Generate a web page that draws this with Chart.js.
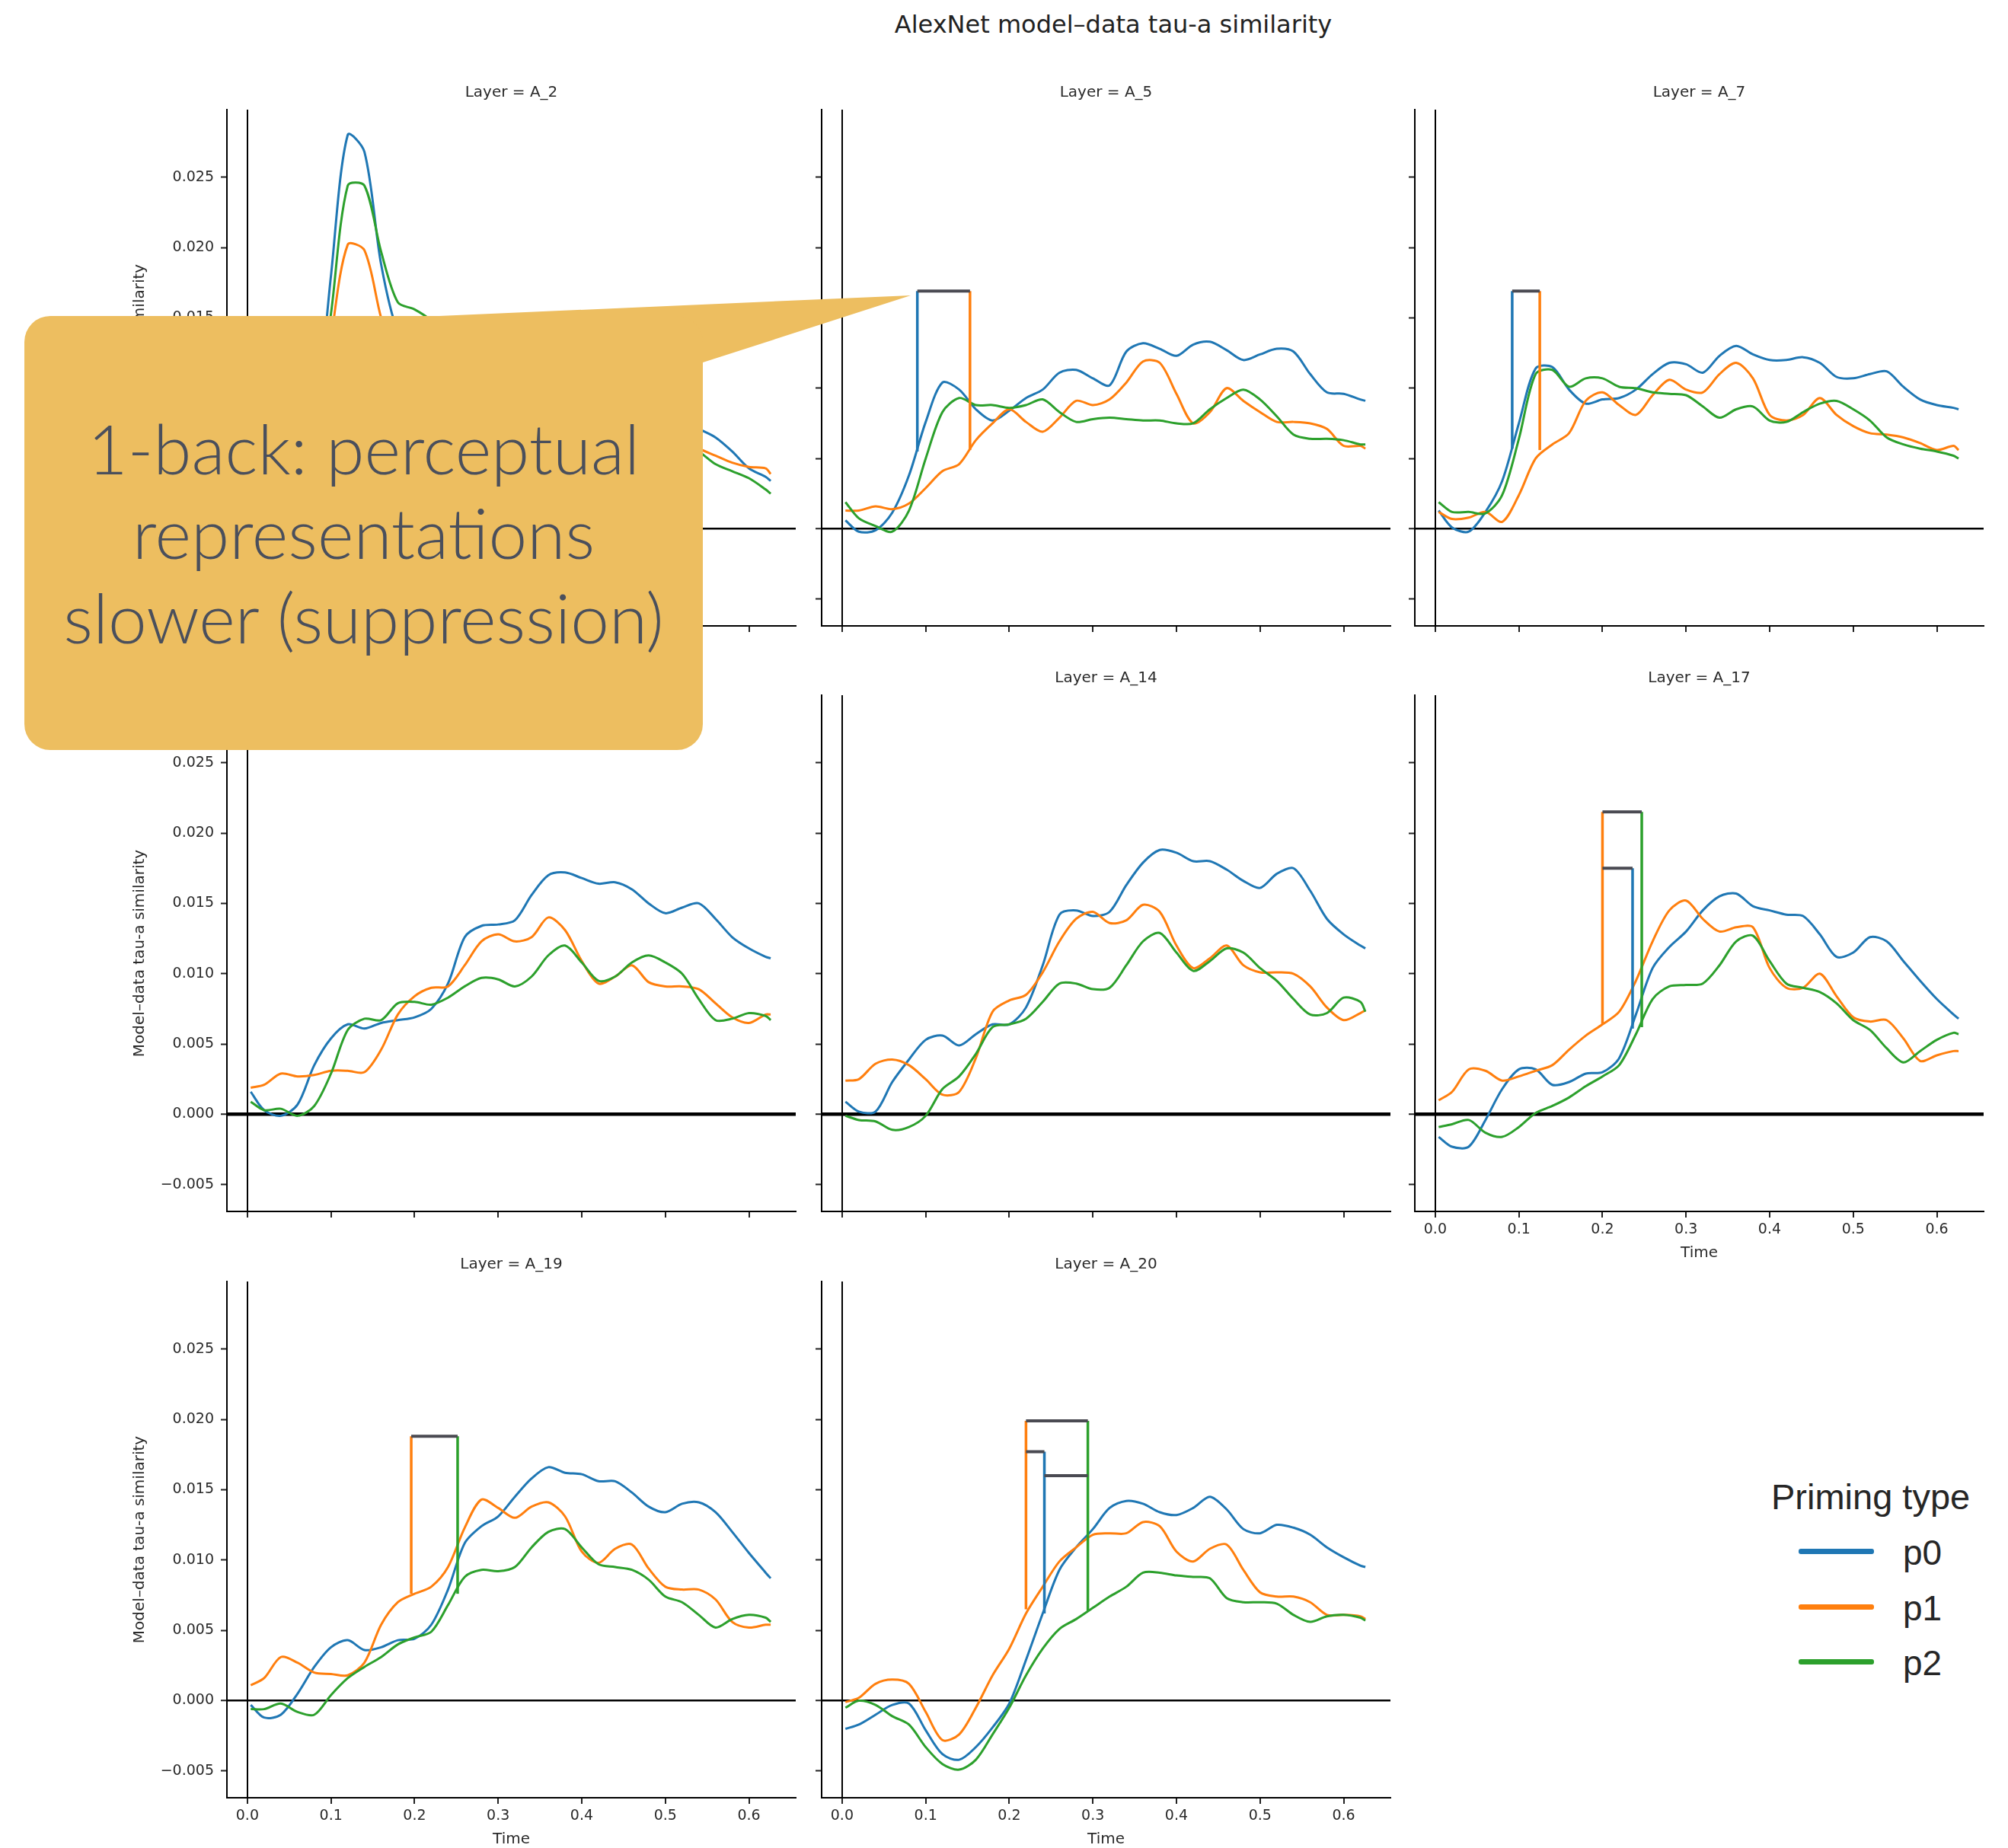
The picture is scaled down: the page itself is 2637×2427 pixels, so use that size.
<!DOCTYPE html>
<html>
<head>
<meta charset="utf-8">
<script src="https://cdn.jsdelivr.net/npm/chart.js@4.4.1/dist/chart.umd.min.js"></script>
<style>
  html, body { margin: 0; padding: 0; background: #fff; }
  body { width: 2637px; height: 2427px; position: relative; overflow: hidden; }
  canvas { position: absolute; }
  #title { position: absolute; left: 462px; width: 2000px; top: 12px; text-align: center;
           font: 32px/40px "DejaVu Sans", sans-serif; color: #222; }
  .legend { position: absolute; font-family: "Liberation Sans", Arial, sans-serif; color: #262626; white-space: nowrap; }
  .swatch { position: absolute; width: 99px; height: 7px; border-radius: 3px; }
  #callout { position: absolute; left: 32px; top: 415px; width: 891px; height: 570px;
             background: #edbe60; border-radius: 34px; z-index: 10; }
  #pointer { position: absolute; left: 0; top: 0; z-index: 10; }
  #calloutText { position: absolute; left: 32px; top: 532px; width: 891px; text-align: center; z-index: 11;
                 font-family: Lato, "Open Sans", sans-serif; font-weight: 300; font-size: 91px; line-height: 111px; color: #4a4f5c; }
</style>
</head>
<body>
<div id="title">AlexNet model–data tau-a similarity</div>

<div class="legend" style="left:2326px; top:1938px; font-size:47px; line-height:56px;">Priming type</div>
<div class="swatch" style="left:2362px; top:2034px; background:#1f77b4;"></div>
<div class="legend" style="left:2499px; top:2011px; font-size:46px; line-height:56px;">p0</div>
<div class="swatch" style="left:2362px; top:2107px; background:#ff7f0e;"></div>
<div class="legend" style="left:2499px; top:2084px; font-size:46px; line-height:56px;">p1</div>
<div class="swatch" style="left:2362px; top:2179px; background:#2ca02c;"></div>
<div class="legend" style="left:2499px; top:2156px; font-size:46px; line-height:56px;">p2</div>

<svg id="pointer" width="1300" height="600"><polygon points="554,416 1196,388 923,476 923,520 554,520" fill="#edbe60"/></svg>
<div id="callout"></div>
<div id="calloutText">1-back: perceptual<br>representations<br>slower (suppression)</div>

<script>
// sample times (s) shared by every series
const times = [0.004, 0.02, 0.04, 0.06, 0.08, 0.10, 0.12, 0.14, 0.16, 0.18, 0.20, 0.22, 0.24, 0.26, 0.28, 0.30,
  0.32, 0.34, 0.36, 0.38, 0.40, 0.42, 0.44, 0.46, 0.48, 0.50, 0.52, 0.54, 0.56, 0.58, 0.60, 0.62, 0.626];

const xTicks = [0, 0.1, 0.2, 0.3, 0.4, 0.5, 0.6];
const yTicks = [-0.005, 0, 0.005, 0.010, 0.015, 0.020, 0.025];
const seriesNames = ['p0', 'p1', 'p2'];

const a2_p0 = [0.0008, 0.0002, 0.0005, 0.0020, 0.0065, 0.0180, 0.0280, 0.0268, 0.0188, 0.0140, 0.0128, 0.0124, 0.0120, 0.0117, 0.0115, 0.0112, 0.0111, 0.0109, 0.0107, 0.0105, 0.0103, 0.0100, 0.0097, 0.0094, 0.0090, 0.0083, 0.0077, 0.0071, 0.0065, 0.0055, 0.0043, 0.0037, 0.0034];
const a2_p1 = [0.0015, 0.0012, 0.0014, 0.0020, 0.0050, 0.0135, 0.0202, 0.0198, 0.0150, 0.0115, 0.0100, 0.0095, 0.0092, 0.0090, 0.0088, 0.0086, 0.0085, 0.0084, 0.0083, 0.0081, 0.0079, 0.0076, 0.0073, 0.0071, 0.0068, 0.0064, 0.0061, 0.0057, 0.0052, 0.0047, 0.0044, 0.0043, 0.0039];
const a2_p2 = [0.0012, 0.0008, 0.0010, 0.0025, 0.0070, 0.0153, 0.0244, 0.0244, 0.0197, 0.0161, 0.0156, 0.0148, 0.0135, 0.0122, 0.0112, 0.0105, 0.0100, 0.0096, 0.0092, 0.0089, 0.0086, 0.0082, 0.0079, 0.0075, 0.0071, 0.0066, 0.0061, 0.0055, 0.0046, 0.0041, 0.0036, 0.0028, 0.0025];

const a5_p0 = [0.0006, -0.0002, -0.0001, 0.00115, 0.0038, 0.0076, 0.0104, 0.0099, 0.0085, 0.0077, 0.0084, 0.0093, 0.0099, 0.0111, 0.0113, 0.0107, 0.0102, 0.0126, 0.0132, 0.0128, 0.0123, 0.0131, 0.0133, 0.0127, 0.0120, 0.0124, 0.0128, 0.0126, 0.0110, 0.0097, 0.0096, 0.0092, 0.0091];
const a5_p1 = [0.0013, 0.0013, 0.0016, 0.0014, 0.0018, 0.0029, 0.0041, 0.0046, 0.0063, 0.0075, 0.0085, 0.0076, 0.0069, 0.0079, 0.0091, 0.0088, 0.0092, 0.0104, 0.0119, 0.0118, 0.0096, 0.0075, 0.0083, 0.0100, 0.0091, 0.0083, 0.0076, 0.0076, 0.0075, 0.0071, 0.0059, 0.0059, 0.0057];
const a5_p2 = [0.0019, 0.00075, 0.0002, -0.0002, 0.0013, 0.0050, 0.0083, 0.0093, 0.0088, 0.0088, 0.0086, 0.0088, 0.0092, 0.0083, 0.0076, 0.0078, 0.0079, 0.0078, 0.0077, 0.0077, 0.0075, 0.0075, 0.0085, 0.0093, 0.0099, 0.0092, 0.0080, 0.0067, 0.0064, 0.0064, 0.0063, 0.0060, 0.0060];

const a7_p0 = [0.0013, 0.0001, -0.0002, 0.0012, 0.0034, 0.0075, 0.0114, 0.0115, 0.0099, 0.0089, 0.0092, 0.0093, 0.0099, 0.0110, 0.0118, 0.0117, 0.0111, 0.0123, 0.0130, 0.0124, 0.0120, 0.0120, 0.0122, 0.0118, 0.0108, 0.0107, 0.0110, 0.0112, 0.0101, 0.0092, 0.0088, 0.0086, 0.0085];
const a7_p1 = [0.0012, 0.0007, 0.0008, 0.0012, 0.0005, 0.0024, 0.0050, 0.0060, 0.0068, 0.0091, 0.0097, 0.0088, 0.0081, 0.0095, 0.0106, 0.0099, 0.0097, 0.0110, 0.0118, 0.0107, 0.0081, 0.0077, 0.0081, 0.0093, 0.0081, 0.0073, 0.0068, 0.0067, 0.0065, 0.0061, 0.0056, 0.0059, 0.0056];
const a7_p2 = [0.0019, 0.0012, 0.0012, 0.0011, 0.0024, 0.0064, 0.0110, 0.0113, 0.0101, 0.0107, 0.0107, 0.0101, 0.0100, 0.0097, 0.0096, 0.0095, 0.0087, 0.0079, 0.0085, 0.0087, 0.0077, 0.0076, 0.0083, 0.0089, 0.0091, 0.0085, 0.0077, 0.0065, 0.0060, 0.0057, 0.0055, 0.0052, 0.0050];

const a10_p0 = [0.0016, 0.0003, -0.0001, 0.0007, 0.0035, 0.0054, 0.0064, 0.0061, 0.0065, 0.0067, 0.0069, 0.0075, 0.0093, 0.0126, 0.0134, 0.0135, 0.0138, 0.0156, 0.0170, 0.0172, 0.0168, 0.0164, 0.0165, 0.0160, 0.0150, 0.0143, 0.0147, 0.0150, 0.0139, 0.0126, 0.0118, 0.0112, 0.0111];
const a10_p1 = [0.0019, 0.0021, 0.0029, 0.0027, 0.0028, 0.0031, 0.0031, 0.0030, 0.0046, 0.0071, 0.0084, 0.0090, 0.0091, 0.0106, 0.0123, 0.0128, 0.0123, 0.0126, 0.0140, 0.0131, 0.0109, 0.0093, 0.0098, 0.0106, 0.0094, 0.0091, 0.0091, 0.0089, 0.0079, 0.0069, 0.0065, 0.0071, 0.0071];
const a10_p2 = [0.0009, 0.0003, 0.0004, -0.0001, 0.0006, 0.0029, 0.0060, 0.0068, 0.0067, 0.0079, 0.0080, 0.0078, 0.0083, 0.0091, 0.0097, 0.0096, 0.0091, 0.0098, 0.0113, 0.0120, 0.0108, 0.0095, 0.0098, 0.0108, 0.0113, 0.0108, 0.0100, 0.0082, 0.0067, 0.0068, 0.0072, 0.0070, 0.0067];

const a14_p0 = [0.0009, 0.0002, 0.0002, 0.0023, 0.0039, 0.0053, 0.0056, 0.0049, 0.0057, 0.0064, 0.0064, 0.0076, 0.0106, 0.0142, 0.0145, 0.0141, 0.0144, 0.0163, 0.0179, 0.0188, 0.0186, 0.0180, 0.0180, 0.0174, 0.0166, 0.0161, 0.0171, 0.0175, 0.0159, 0.0139, 0.0128, 0.0120, 0.0118];
const a14_p1 = [0.0024, 0.0025, 0.0036, 0.0039, 0.0035, 0.0025, 0.0014, 0.0016, 0.0040, 0.0073, 0.0081, 0.0085, 0.0101, 0.0123, 0.0139, 0.0144, 0.0136, 0.0138, 0.0149, 0.0144, 0.0120, 0.0104, 0.0111, 0.0120, 0.0106, 0.0101, 0.0101, 0.0100, 0.0091, 0.0076, 0.0067, 0.0072, 0.0074];
const a14_p2 = [-0.0001, -0.0004, -0.0005, -0.0011, -0.0009, -0.0001, 0.0018, 0.0027, 0.0043, 0.0062, 0.0064, 0.0068, 0.0080, 0.0093, 0.0093, 0.0089, 0.0090, 0.0106, 0.0123, 0.0129, 0.0115, 0.0102, 0.0109, 0.0118, 0.0115, 0.0104, 0.0095, 0.0082, 0.0071, 0.0072, 0.0083, 0.0080, 0.0073];

const a17_p0 = [-0.0016, -0.0023, -0.0023, -0.0004, 0.0018, 0.0032, 0.0032, 0.0021, 0.0023, 0.0029, 0.0030, 0.0040, 0.0071, 0.0104, 0.0119, 0.0130, 0.0145, 0.0155, 0.0157, 0.0148, 0.0145, 0.0142, 0.0141, 0.0128, 0.0112, 0.0115, 0.0126, 0.0123, 0.0109, 0.0095, 0.0082, 0.0071, 0.0068];
const a17_p1 = [0.0010, 0.0016, 0.0032, 0.0031, 0.0024, 0.0027, 0.0031, 0.0035, 0.0046, 0.0056, 0.0064, 0.0073, 0.0095, 0.0123, 0.0145, 0.0152, 0.0139, 0.0130, 0.0133, 0.0133, 0.0104, 0.0090, 0.0090, 0.0100, 0.0084, 0.0069, 0.0066, 0.0067, 0.0054, 0.0038, 0.0042, 0.0045, 0.0045];
const a17_p2 = [-0.0009, -0.0007, -0.0004, -0.0013, -0.0016, -0.0009, 0.0001, 0.0006, 0.0012, 0.0020, 0.0027, 0.0035, 0.0057, 0.0082, 0.0091, 0.0092, 0.0093, 0.0106, 0.0123, 0.0127, 0.0109, 0.0093, 0.0090, 0.0087, 0.0079, 0.0067, 0.0060, 0.0047, 0.0037, 0.0045, 0.0053, 0.0058, 0.0057];

const a19_p0 = [-0.0003, -0.0012, -0.0010, 0.0005, 0.0024, 0.0038, 0.0043, 0.0036, 0.0038, 0.0043, 0.0044, 0.0054, 0.0079, 0.0112, 0.0124, 0.0131, 0.0145, 0.0158, 0.0166, 0.0162, 0.0161, 0.0156, 0.0156, 0.0148, 0.0138, 0.0134, 0.0140, 0.0141, 0.0134, 0.0120, 0.0105, 0.0091, 0.0087];
const a19_p1 = [0.0011, 0.0016, 0.0031, 0.0027, 0.0020, 0.0019, 0.0018, 0.0027, 0.0054, 0.0070, 0.0076, 0.0081, 0.0095, 0.0123, 0.0143, 0.0137, 0.0130, 0.0138, 0.0141, 0.0131, 0.0106, 0.0098, 0.0108, 0.0111, 0.0094, 0.0081, 0.0079, 0.0079, 0.0072, 0.0056, 0.0052, 0.0054, 0.0054];
const a19_p2 = [-0.0006, -0.0006, -0.0002, -0.0008, -0.0010, 0.0004, 0.0016, 0.0024, 0.0031, 0.0040, 0.0045, 0.0049, 0.0068, 0.0088, 0.0093, 0.0092, 0.0095, 0.0109, 0.0120, 0.0122, 0.0109, 0.0097, 0.0095, 0.0093, 0.0086, 0.0074, 0.0070, 0.0061, 0.0052, 0.0058, 0.0061, 0.0059, 0.0056];

const a20_p0 = [-0.0020, -0.0017, -0.0010, -0.0003, -0.0002, -0.0021, -0.0038, -0.0042, -0.0033, -0.0019, -0.0002, 0.0029, 0.0062, 0.0093, 0.0109, 0.0122, 0.0137, 0.0142, 0.0140, 0.0134, 0.0132, 0.0137, 0.0145, 0.0136, 0.0122, 0.0119, 0.0125, 0.0123, 0.0118, 0.0109, 0.0102, 0.0096, 0.0095];
const a20_p1 = [-0.0001, 0.0002, 0.0012, 0.0015, 0.0012, -0.0008, -0.0028, -0.0024, -0.0005, 0.0018, 0.0037, 0.0062, 0.0081, 0.0099, 0.0109, 0.0118, 0.0119, 0.0119, 0.0127, 0.0124, 0.0106, 0.0099, 0.0108, 0.0111, 0.0093, 0.0077, 0.0074, 0.0074, 0.0070, 0.0061, 0.0061, 0.0060, 0.0058];
const a20_p2 = [-0.0005, 0.0000, -0.0003, -0.0011, -0.0017, -0.0033, -0.0045, -0.0049, -0.0042, -0.0024, -0.0005, 0.0018, 0.0037, 0.0051, 0.0058, 0.0066, 0.0074, 0.0081, 0.0091, 0.0091, 0.0089, 0.0088, 0.0087, 0.0073, 0.0070, 0.0070, 0.0069, 0.0061, 0.0056, 0.0060, 0.0061, 0.0059, 0.0057];

// significance brackets: legs = [series, time, from, to], caps = [time1, time2, level]
const a5_legs = [[0, 0.090, 0.0055, 0.0169], [1, 0.153, 0.0056, 0.0169]];
const a5_caps = [[0.090, 0.153, 0.0169]];
const a7_legs = [[0, 0.092, 0.0057, 0.0169], [1, 0.125, 0.0056, 0.0169]];
const a7_caps = [[0.092, 0.125, 0.0169]];
const a17_legs = [[1, 0.200, 0.0064, 0.0215], [2, 0.247, 0.0062, 0.0215], [0, 0.236, 0.0061, 0.0175]];
const a17_caps = [[0.200, 0.247, 0.0215], [0.200, 0.236, 0.0175]];
const a19_legs = [[1, 0.196, 0.0076, 0.0188], [2, 0.2515, 0.0076, 0.0188]];
const a19_caps = [[0.196, 0.2515, 0.0188]];
const a20_legs = [[1, 0.220, 0.0065, 0.0199], [0, 0.242, 0.0062, 0.0177], [2, 0.294, 0.0064, 0.0199]];
const a20_caps = [[0.220, 0.294, 0.0199], [0.220, 0.242, 0.0177], [0.242, 0.294, 0.0160]];

const colors = ['#1f77b4', '#ff7f0e', '#2ca02c'];
const capColor = '#4a4a52';
const FONT = '"DejaVu Sans", sans-serif';
const TEXT = '#2a2a2a';

// layout of the facet grid (page pixels)
const colLeft = [298, 1079, 1858];
const rowTop = [144, 913, 1683];
const PLOT_W = 747, PLOT_H = 678;
const AXIS_W = 130, AXIS_H = 75, PAD_TOP = 50, PAD_RIGHT = 20;

const panels = [
  {title: 'Layer = A_2', col: 0, row: 0, series: [a2_p0, a2_p1, a2_p2], legs: [], caps: []},
  {title: 'Layer = A_5', col: 1, row: 0, series: [a5_p0, a5_p1, a5_p2], legs: a5_legs, caps: a5_caps},
  {title: 'Layer = A_7', col: 2, row: 0, series: [a7_p0, a7_p1, a7_p2], legs: a7_legs, caps: a7_caps},
  {title: 'Layer = A_10', col: 0, row: 1, series: [a10_p0, a10_p1, a10_p2], legs: [], caps: []},
  {title: 'Layer = A_14', col: 1, row: 1, series: [a14_p0, a14_p1, a14_p2], legs: [], caps: []},
  {title: 'Layer = A_17', col: 2, row: 1, series: [a17_p0, a17_p1, a17_p2], legs: a17_legs, caps: a17_caps, xLabels: true},
  {title: 'Layer = A_19', col: 0, row: 2, series: [a19_p0, a19_p1, a19_p2], legs: a19_legs, caps: a19_caps, xLabels: true},
  {title: 'Layer = A_20', col: 1, row: 2, series: [a20_p0, a20_p1, a20_p2], legs: a20_legs, caps: a20_caps, xLabels: true}
];

function makePanel(p) {
  const canvas = document.createElement('canvas');
  canvas.width = AXIS_W + PLOT_W + PAD_RIGHT;
  canvas.height = PAD_TOP + PLOT_H + AXIS_H;
  canvas.style.left = (colLeft[p.col] - AXIS_W) + 'px';
  canvas.style.top = (rowTop[p.row] - PAD_TOP) + 'px';
  document.body.appendChild(canvas);

  const yLabels = p.col === 0;
  const zeroWidth = p.row === 1 ? 4.5 : 2.5;

  const datasets = p.series.map((vals, i) => ({
    label: seriesNames[i],
    data: times.map((t, k) => ({x: t, y: vals[k]})),
    borderColor: colors[i],
    borderWidth: 3,
    pointRadius: 0,
    tension: 0.3,
    borderJoinStyle: 'round',
    order: 3 - i
  }));
  p.legs.forEach(([s, t, lo, hi]) => datasets.push({
    data: [{x: t, y: lo}, {x: t, y: hi}],
    borderColor: colors[s], borderWidth: 3.5, pointRadius: 0, tension: 0, order: -1
  }));
  p.caps.forEach(([t1, t2, v]) => datasets.push({
    data: [{x: t1, y: v}, {x: t2, y: v}],
    borderColor: capColor, borderWidth: 4, pointRadius: 0, tension: 0, order: -2
  }));

  const titlePlugin = {
    id: 'panelTitle',
    afterDraw(chart) {
      const {ctx, chartArea} = chart;
      ctx.save();
      ctx.font = '20px ' + FONT;
      ctx.fillStyle = TEXT;
      ctx.textAlign = 'center';
      ctx.textBaseline = 'middle';
      ctx.fillText(p.title, (chartArea.left + chartArea.right) / 2, chartArea.top - 22);
      ctx.restore();
    }
  };

  new Chart(canvas, {
    type: 'line',
    data: {datasets},
    plugins: [titlePlugin],
    options: {
      responsive: false,
      animation: false,
      devicePixelRatio: 1,
      layout: {padding: {top: PAD_TOP, right: PAD_RIGHT, left: 0, bottom: 0}},
      plugins: {legend: {display: false}, tooltip: {enabled: false}},
      scales: {
        x: {
          type: 'linear', min: -0.0245, max: 0.656,
          afterBuildTicks: s => { s.ticks = xTicks.map(v => ({value: v})); },
          afterFit: s => { s.height = AXIS_H; },
          ticks: {display: !!p.xLabels, autoSkip: false, maxRotation: 0, padding: 5,
                  font: {family: FONT, size: 19}, color: TEXT, callback: v => v.toFixed(1)},
          grid: {color: c => (c.tick && c.tick.value === 0) ? '#000' : 'rgba(0,0,0,0)',
                 lineWidth: 2, tickLength: 8, tickColor: '#222', tickWidth: 2},
          border: {display: true, color: '#000', width: 2},
          title: {display: !!p.xLabels, text: 'Time', font: {family: FONT, size: 20}, color: TEXT,
                  padding: {top: 0, bottom: 8}}
        },
        y: {
          type: 'linear', min: -0.0069, max: 0.0298,
          afterBuildTicks: s => { s.ticks = yTicks.map(v => ({value: v})); },
          afterFit: s => { s.width = AXIS_W; },
          ticks: {display: yLabels, padding: 9, font: {family: FONT, size: 19}, color: TEXT,
                  callback: v => v.toFixed(3).replace('-', '\u2212')},
          grid: {color: c => (c.tick && c.tick.value === 0) ? '#000' : 'rgba(0,0,0,0)',
                 lineWidth: c => (c.tick && c.tick.value === 0) ? zeroWidth : 1,
                 tickLength: 8, tickColor: '#222', tickWidth: 2},
          border: {display: true, color: '#000', width: 2},
          title: {display: yLabels, text: 'Model\u2013data tau-a similarity', font: {family: FONT, size: 20},
                  color: TEXT, padding: {top: 4, bottom: 0}}
        }
      }
    }
  });
}

panels.forEach(makePanel);
</script>
</body>
</html>
